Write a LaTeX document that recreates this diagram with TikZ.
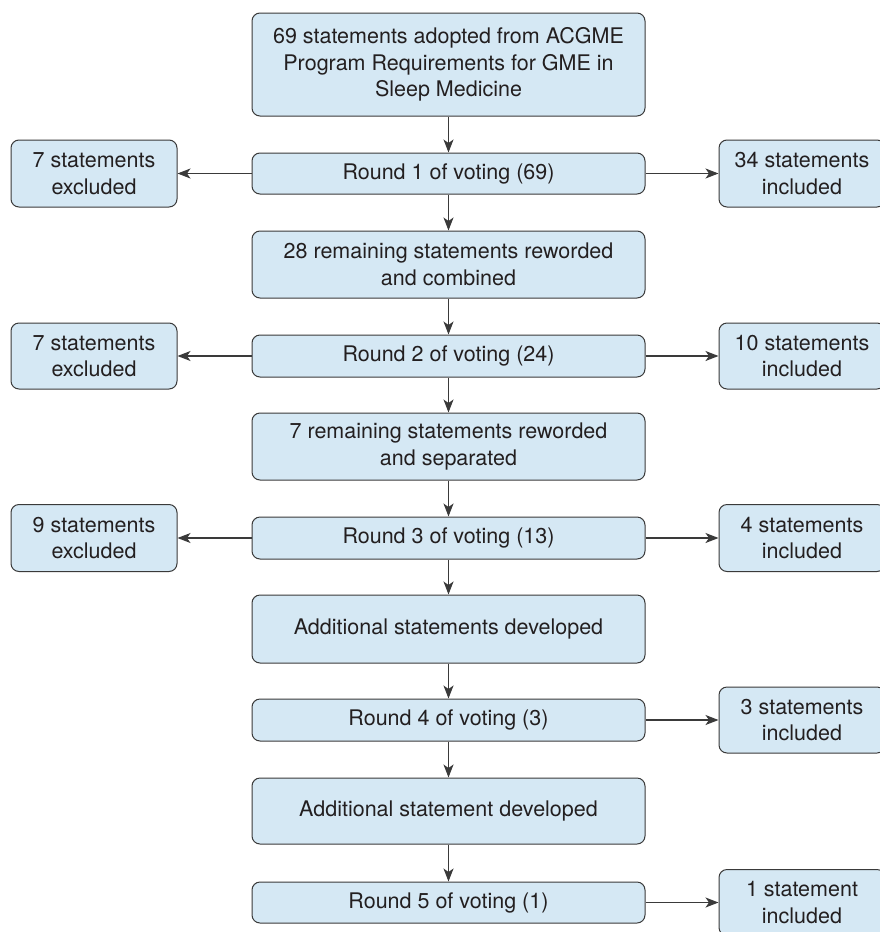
\documentclass[tikz,border=0pt]{standalone}
\usepackage{fontspec}
\setmainfont{TeX Gyre Heros}
\usetikzlibrary{arrows.meta}
\definecolor{boxfill}{HTML}{D5E8F4}
\definecolor{boxline}{HTML}{3A3A3A}
\definecolor{txt}{HTML}{231F20}
\begin{document}
\begin{tikzpicture}[x=1pt,y=-1pt,
  box/.style={draw=boxline, line width=1pt, fill=boxfill, rounded corners=8pt, align=center,
    font=\fontsize{21.5}{26.5}\selectfont, text=txt, inner sep=0pt},
  cbox/.style={box, minimum width=393pt},
  sbox/.style={box, minimum width=166pt},
  arr/.style={-{Stealth[length=13pt,width=10pt,inset=3.5pt]}, line width=1.2pt, draw=boxline}]
\useasboundingbox (0,0) rectangle (880,932);
% centre column
\node[cbox, minimum height=103pt] (n0) at (448.5,64.5) {69 statements adopted from ACGME\\Program Requirements for GME in\\Sleep Medicine};
\node[cbox, minimum height=41pt] (r1) at (448.5,173.5) {Round 1 of voting (69)};
\node[cbox, minimum height=67pt] (m1) at (448.5,264.5) {28 remaining statements reworded\\and combined};
\node[cbox, minimum height=42pt] (r2) at (448.5,356) {Round 2 of voting (24)};
\node[cbox, minimum height=67pt] (m2) at (448.5,446.5) {7 remaining statements reworded\\and separated};
\node[cbox, minimum height=42pt] (r3) at (448.5,538) {Round 3 of voting (13)};
\node[cbox, minimum height=68pt] (m3) at (448.5,629) {Additional statements developed};
\node[cbox, minimum height=42pt] (r4) at (448.5,720) {Round 4 of voting (3)};
\node[cbox, minimum height=66pt] (m4) at (448.5,811) {Additional statement developed};
\node[cbox, minimum height=41pt] (r5) at (448.5,902.5) {Round 5 of voting (1)};
% left column
\node[sbox, minimum height=67pt] (l1) at (94,173.5) {7 statements\\excluded};
\node[sbox, minimum height=66pt] (l2) at (94,356) {7 statements\\excluded};
\node[sbox, minimum height=67pt] (l3) at (94,538) {9 statements\\excluded};
% right column
\node[sbox, minimum height=67pt] (i1) at (802,173.5) {34 statements\\included};
\node[sbox, minimum height=66pt] (i2) at (802,356) {10 statements\\included};
\node[sbox, minimum height=67pt] (i3) at (802,538) {4 statements\\included};
\node[sbox, minimum height=66pt] (i4) at (802,720) {3 statements\\included};
\node[sbox, minimum height=66pt] (i5) at (802,902.5) {1 statement\\included};
% vertical arrows
\draw[arr] (n0) -- (r1);
\draw[arr] (r1) -- (m1);
\draw[arr] (m1) -- (r2);
\draw[arr] (r2) -- (m2);
\draw[arr] (m2) -- (r3);
\draw[arr] (r3) -- (m3);
\draw[arr] (m3) -- (r4);
\draw[arr] (r4) -- (m4);
\draw[arr] (m4) -- (r5);
% side arrows
\draw[arr] (r1) -- (l1);
\draw[arr] (r2) -- (l2);
\draw[arr] (r3) -- (l3);
\draw[arr] (r1) -- (i1);
\draw[arr] (r2) -- (i2);
\draw[arr] (r3) -- (i3);
\draw[arr] (r4) -- (i4);
\draw[arr] (r5) -- (i5);
\end{tikzpicture}
\end{document}
